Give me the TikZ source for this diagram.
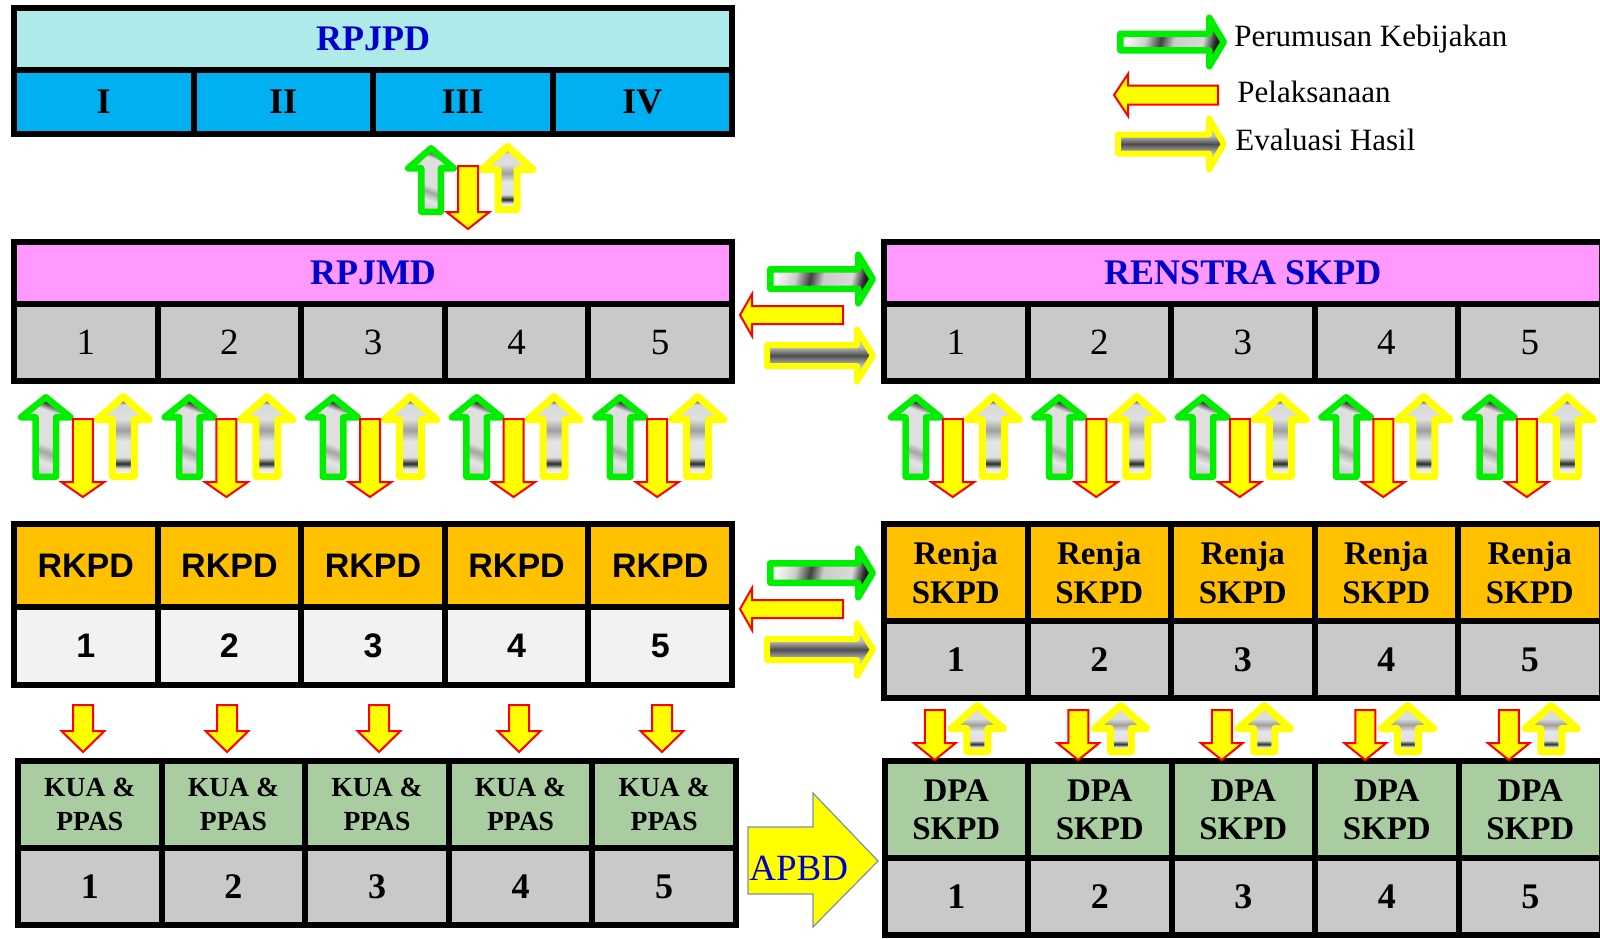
\documentclass[tikz,border=0pt]{standalone}
\usepackage{fontspec}
\setmainfont{Liberation Serif}
\newfontfamily\arialfont{Liberation Sans}

\definecolor{cyanhdr}{HTML}{AEEAEA}
\definecolor{bluerow}{HTML}{00B0F0}
\definecolor{pinkhdr}{HTML}{FF99FF}
\definecolor{grayrow}{HTML}{C9C9C9}
\definecolor{orghdr}{HTML}{FFC000}
\definecolor{lightrow}{HTML}{F2F2F2}
\definecolor{sage}{HTML}{A9CDA0}
\definecolor{titleblue}{HTML}{0000CC}
\definecolor{arrgreen}{HTML}{00EE00}
\definecolor{arryellow}{HTML}{FFFF00}
\definecolor{arrred}{HTML}{FF0000}
\definecolor{apbdline}{HTML}{8090A8}

\pgfdeclarehorizontalshading{streak}{100bp}{color(0bp)=(white); color(25bp)=(white); color(36bp)=(gray!40); color(44bp)=(black!75); color(51bp)=(gray!40); color(66bp)=(gray!30); color(72bp)=(black!80); color(75bp)=(black); color(100bp)=(black)}
\pgfdeclarehorizontalshading{streakv}{100bp}{color(0bp)=(gray!40); color(25bp)=(gray!40); color(33bp)=(gray!20); color(40bp)=(gray!70); color(45bp)=(gray!25); color(68bp)=(gray!25); color(73bp)=(black!80); color(75bp)=(black); color(100bp)=(black)}
\pgfdeclareverticalshading{metalh}{100bp}{color(0bp)=(gray!25); color(25bp)=(gray!25); color(40bp)=(gray!45); color(50bp)=(black!70); color(58bp)=(gray!55); color(75bp)=(gray!30); color(100bp)=(gray!30)}
\pgfdeclareverticalshading{metalv}{100bp}{color(0bp)=(white); color(25bp)=(white); color(30bp)=(gray!20); color(33bp)=(black!85); color(37bp)=(gray!25); color(47bp)=(gray!20); color(54bp)=(gray!75); color(61bp)=(gray!25); color(70bp)=(gray!30); color(73bp)=(black!85); color(75bp)=(black); color(100bp)=(black)}

\newcommand{\fsz}[2]{\fontsize{#1}{#2}\selectfont}
\newcommand{\mkcell}[7]{\node[cellb, #6, minimum width={(#3-#2)*0.5pt}, minimum height={(#5-#4)*0.5pt}] (#1) at ({(#2+#3)/2},{(#4+#5)/2}) {#7};}
% vertical block arrow: style, cx, tip y, head-base y, tail y, shaft half, head half
\newcommand{\VArr}[7]{\path[#1] ({#2-#6},#5) -- ({#2-#6},#4) -- ({#2-#7},#4) -- (#2,#3) -- ({#2+#7},#4) -- ({#2+#6},#4) -- ({#2+#6},#5) -- cycle;}
% horizontal block arrow: style, cy, tip x, head-base x, tail x, shaft half, head half
\newcommand{\HArr}[7]{\path[#1] (#5,{#2-#6}) -- (#4,{#2-#6}) -- (#4,{#2-#7}) -- (#3,#2) -- (#4,{#2+#7}) -- (#4,{#2+#6}) -- (#5,{#2+#6}) -- cycle;}

\tikzset{
  cellb/.style={draw=black, line width=3pt, inner sep=0pt, anchor=center, align=center},
  pkarr/.style={draw=arrgreen, line width=3.25pt, line join=round, shade, shading=streakv, shading angle=70},
  pkarrh/.style={draw=arrgreen, line width=3.25pt, line join=round, shade, shading=streak, shading angle=-12},
  plarr/.style={draw=arrred, line width=1pt, fill=arryellow},
  evarr/.style={draw=arryellow, line width=3.5pt, line join=round, shade, shading=metalv},
  evarrh/.style={draw=arryellow, line width=3pt, line join=round, shade, shading=metalh},
  legtext/.style={anchor=base west, inner sep=0pt, font=\fsz{15.5}{18}},
  ttl/.style={text=titleblue, font=\bfseries\fsz{18}{20}},
}

\begin{document}
\begin{tikzpicture}[x=0.5pt, y=-0.5pt]
\useasboundingbox (0,0) rectangle (1600,938);

% ---------- RPJPD ----------
\mkcell{rpjpd}{14}{732}{8}{70}{fill=cyanhdr, ttl}{RPJPD}
\foreach \i/\t [evaluate=\i as \xa using 14+179.5*\i, evaluate=\i as \xb using 14+179.5*(\i+1)] in {0/I,1/II,2/III,3/IV}
  {\mkcell{rpjpd-\i}{\xa}{\xb}{70}{134}{fill=bluerow, font=\bfseries\fsz{18}{20}}{\t}}

% ---------- RPJMD ----------
\mkcell{rpjmd}{14}{732}{242}{304}{fill=pinkhdr, ttl}{RPJMD}
\foreach \i/\t [evaluate=\i as \xa using 14+143.6*\i, evaluate=\i as \xb using 14+143.6*(\i+1)] in {0/1,1/2,2/3,3/4,4/5}
  {\mkcell{rpjmd-\i}{\xa}{\xb}{304}{381}{fill=grayrow, font=\fsz{18.5}{20}}{\t}}

% ---------- RENSTRA ----------
\mkcell{renstra}{884}{1601.5}{242}{304}{fill=pinkhdr, ttl}{RENSTRA SKPD}
\foreach \i/\t [evaluate=\i as \xa using 884+143.5*\i, evaluate=\i as \xb using 884+143.5*(\i+1)] in {0/1,1/2,2/3,3/4,4/5}
  {\mkcell{renstra-\i}{\xa}{\xb}{304}{381}{fill=grayrow, font=\fsz{18.5}{20}}{\t}}

% ---------- RKPD ----------
\foreach \i/\t [evaluate=\i as \xa using 14+143.6*\i, evaluate=\i as \xb using 14+143.6*(\i+1)] in {0/1,1/2,2/3,3/4,4/5}
  {\mkcell{rkpd-\i}{\xa}{\xb}{524}{607}{fill=orghdr, font=\arialfont\bfseries\fsz{17}{20}}{RKPD}
   \mkcell{rkpdn-\i}{\xa}{\xb}{607}{685}{fill=lightrow, font=\arialfont\bfseries\fsz{17}{20}}{\t}}

% ---------- Renja ----------
\foreach \i/\t [evaluate=\i as \xa using 884+143.5*\i, evaluate=\i as \xb using 884+143.5*(\i+1)] in {0/1,1/2,2/3,3/4,4/5}
  {\mkcell{renja-\i}{\xa}{\xb}{524}{621}{fill=orghdr, font=\bfseries\fsz{16.5}{19.5}}{Renja\\SKPD}
   \mkcell{renjan-\i}{\xa}{\xb}{621}{698}{fill=grayrow, font=\bfseries\fsz{18}{20}}{\t}}

% ---------- KUA & PPAS ----------
\foreach \i/\t [evaluate=\i as \xa using 18+143.6*\i, evaluate=\i as \xb using 18+143.6*(\i+1)] in {0/1,1/2,2/3,3/4,4/5}
  {\mkcell{kua-\i}{\xa}{\xb}{761}{848}{fill=sage, font=\bfseries\fsz{13.8}{17}}{KUA \&\\PPAS}
   \mkcell{kuan-\i}{\xa}{\xb}{848}{925}{fill=grayrow, font=\bfseries\fsz{18}{20}}{\t}}

% ---------- DPA ----------
\foreach \i/\t [evaluate=\i as \xa using 884.5+143.5*\i, evaluate=\i as \xb using 884.5+143.5*(\i+1)] in {0/1,1/2,2/3,3/4,4/5}
  {\mkcell{dpa-\i}{\xa}{\xb}{761}{858}{fill=sage, font=\bfseries\fsz{16.5}{19}}{DPA\\SKPD}
   \mkcell{dpan-\i}{\xa}{\xb}{858}{935}{fill=grayrow, font=\bfseries\fsz{18}{20}}{\t}}

% ---------- RPJPD <-> RPJMD arrows ----------
\VArr{pkarr}{431}{148.25}{168.25}{211.75}{9.75}{22.75}
\VArr{evarr}{507.5}{146.5}{169.5}{209.5}{9.5}{25.5}
\VArr{plarr}{468}{229}{212}{166}{10}{21.5}

% ---------- RPJMD -> RKPD and RENSTRA -> Renja arrows ----------
\foreach \c in {85.8,229.4,373,516.6,660.2,955.75,1099.25,1242.75,1386.25,1529.75} {
  \VArr{pkarr}{\c-40}{397.25}{417.25}{476.75}{10.25}{24.75}
  \VArr{evarr}{\c+37.5}{396.5}{419.5}{476.5}{11}{26}
  \VArr{plarr}{\c-3}{497}{482}{419}{10}{21.5}
}

% ---------- horizontal arrow groups ----------
\foreach \dy in {0,294} {
  \HArr{pkarrh}{279+\dy}{872.75}{858.25}{770.25}{9.75}{24.25}
  \HArr{plarr}{315+\dy}{740}{752}{843}{9}{21}
  \HArr{evarrh}{355.5+\dy}{873}{857}{767}{10.5}{26}
}

% ---------- RKPD -> KUA ----------
\foreach \c in {83,227,379,519,662}
  {\VArr{plarr}{\c}{752}{731}{705}{10}{21.5}}

% ---------- Renja <-> DPA ----------
\foreach \c in {955.75,1099.25,1242.75,1386.25,1529.75} {
  \VArr{plarr}{\c-21}{760}{743}{710}{10}{21}
  \VArr{evarr}{\c+21.5}{705.5}{728.5}{751.5}{10.5}{26}
}

% ---------- APBD ----------
\path[draw=apbdline, line width=0.6pt, fill=arryellow] (748,827) -- (813,827) -- (813,793) -- (878,861) -- (813,927) -- (813,894) -- (748,894) -- cycle;
\node[anchor=base west, inner sep=0pt, text=titleblue, font=\fsz{18.5}{20}] (apbd) at (749,880) {APBD};

% ---------- legend ----------
\HArr{pkarrh}{42}{1223.75}{1209.25}{1120.25}{8.25}{24.25}
\HArr{plarr}{95}{1114}{1128}{1218}{9.5}{21}
\HArr{evarrh}{144}{1224}{1209}{1118}{9.5}{25.5}
\node[legtext] (leg1) at (1234,46) {Perumusan Kebijakan};
\node[legtext] (leg2) at (1237,102) {Pelaksanaan};
\node[legtext] (leg3) at (1235,150) {Evaluasi Hasil};
\end{tikzpicture}
\end{document}
